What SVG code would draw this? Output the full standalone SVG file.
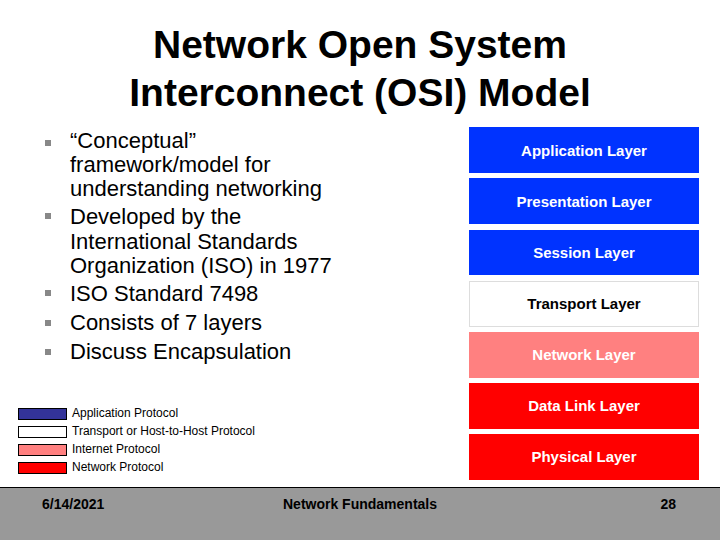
<svg xmlns="http://www.w3.org/2000/svg" width="720" height="540" viewBox="0 0 720 540">
<style>
text{font-family:"Liberation Sans",Arial,sans-serif}
.t{font-size:39px;font-weight:bold;fill:#000}
.b{font-size:22px;fill:#000}
.l{font-size:15px;font-weight:bold;fill:#fff;text-anchor:middle}
.g{font-size:12px;fill:#000}
.f{font-size:14px;font-weight:bold;fill:#000}
.bu{fill:#888}
</style>
<rect width="720" height="540" fill="#fff"/>
<text class="t" x="360" y="58" text-anchor="middle">Network Open System</text>
<text class="t" x="360" y="106" text-anchor="middle">Interconnect (OSI) Model</text>
<g id="bullets">
<rect class="bu" x="45" y="140" width="6" height="6"/>
<rect class="bu" x="45" y="213" width="6" height="6"/>
<rect class="bu" x="45" y="290" width="6" height="6"/>
<rect class="bu" x="45" y="320" width="6" height="6"/>
<rect class="bu" x="45" y="349" width="6" height="6"/>
<text class="b" x="70" y="148">“Conceptual”</text>
<text class="b" x="70" y="172">framework/model for</text>
<text class="b" x="70" y="196">understanding networking</text>
<text class="b" x="70" y="224">Developed by the</text>
<text class="b" x="70" y="249">International Standards</text>
<text class="b" x="70" y="273">Organization (ISO) in 1977</text>
<text class="b" x="70" y="301">ISO Standard 7498</text>
<text class="b" x="70" y="330">Consists of 7 layers</text>
<text class="b" x="70" y="359">Discuss Encapsulation</text>
</g>
<g id="layers">
<g id="app"><rect x="469" y="127" width="230" height="46" fill="#0033ff"/><text class="l" x="584" y="156">Application Layer</text></g>
<g id="pres"><rect x="469" y="178" width="230" height="46" fill="#0033ff"/><text class="l" x="584" y="207">Presentation Layer</text></g>
<g id="sess"><rect x="469" y="230" width="230" height="45" fill="#0033ff"/><text class="l" x="584" y="258">Session Layer</text></g>
<g id="trans"><rect x="469.5" y="281.5" width="229" height="45" fill="#fff" stroke="#ddd"/><text class="l" x="584" y="309" style="fill:#000">Transport Layer</text></g>
<g id="net"><rect x="469" y="332" width="230" height="46" fill="#ff8080"/><text class="l" x="584" y="360">Network Layer</text></g>
<g id="dl"><rect x="469" y="383" width="230" height="46" fill="#ff0000"/><text class="l" x="584" y="411">Data Link Layer</text></g>
<g id="phys"><rect x="469" y="434" width="230" height="46" fill="#ff0000"/><text class="l" x="584" y="462">Physical Layer</text></g>
</g>
<g id="legend" stroke="#000" stroke-width="1">
<rect x="18.5" y="408.5" width="48" height="11" fill="#333399"/>
<rect x="18.5" y="426.5" width="48" height="11" fill="#fff"/>
<rect x="18.5" y="444.5" width="48" height="11" fill="#ff8080"/>
<rect x="18.5" y="462.5" width="48" height="11" fill="#ff0000"/>
</g>
<text class="g" x="72" y="417">Application Protocol</text>
<text class="g" x="72" y="435">Transport or Host-to-Host Protocol</text>
<text class="g" x="72" y="453">Internet Protocol</text>
<text class="g" x="72" y="471">Network Protocol</text>
<g id="footer">
<rect x="0" y="487" width="720" height="53" fill="#999"/>
<line x1="0" y1="487.5" x2="720" y2="487.5" stroke="#000"/>
<text class="f" x="42" y="509">6/14/2021</text>
<text class="f" x="360" y="509" text-anchor="middle">Network Fundamentals</text>
<text class="f" x="676" y="509" text-anchor="end">28</text>
</g>
</svg>
